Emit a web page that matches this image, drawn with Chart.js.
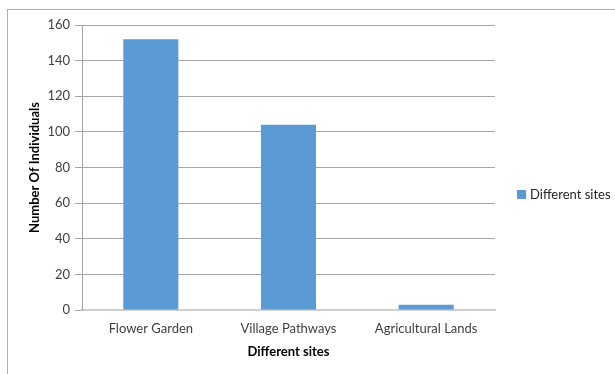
<!DOCTYPE html>
<html><head><meta charset="utf-8">
<script src="https://cdn.jsdelivr.net/npm/chart.js@4/dist/chart.umd.min.js"></script>
<style>
html,body{margin:0;padding:0;background:#fff;overflow:hidden}
#wrap{position:relative;width:615px;height:374px}
#frame{position:absolute;left:7px;top:9px;width:640px;height:400px;border:1px solid #b0b0b0;box-sizing:border-box}
canvas{position:absolute;left:0;top:0}
</style></head><body>
<div id="wrap"><div id="frame"></div><canvas id="c" width="615" height="374"></canvas></div>
<script>
const categories = ["Flower Garden", "Village Pathways", "Agricultural Lands"];
const seriesName = "Different sites";
const values = [152, 104, 3];
const yTicks = [0, 20, 40, 60, 80, 100, 120, 140, 160];
const xTitle = "Different sites";
const yTitle = "Number Of Individuals";

const FONT = "Lato, 'Open Sans', sans-serif";
const BAR = "#5b9bd5";

const extrasPlugin = {
  id: 'extras',
  afterDraw(chart) {
    const ctx = chart.ctx;
    const ds = chart.data.datasets[0];
    const area = chart.chartArea;
    ctx.save();
    // legend
    ctx.fillStyle = ds.backgroundColor;
    ctx.fillRect(517, 190, 9, 9);
    ctx.fillStyle = "#262626";
    ctx.font = "13px " + FONT;
    ctx.textBaseline = "middle";
    ctx.textAlign = "left";
    ctx.fillText(ds.label, 530, 195);
    // y axis title
    ctx.translate(35, (area.top + area.bottom) / 2);
    ctx.rotate(-Math.PI / 2);
    ctx.fillStyle = "#000";
    ctx.font = "bold 13px " + FONT;
    ctx.textAlign = "center";
    ctx.fillText(yTitle, 0, 0);
    ctx.restore();
  }
};

new Chart(document.getElementById('c'), {
  type: 'bar',
  data: {
    labels: categories,
    datasets: [{ label: seriesName, data: values, backgroundColor: BAR,
      barPercentage: 0.4, categoryPercentage: 1.0 }]
  },
  options: {
    responsive: false, animation: false,
    layout: { padding: { top: 25, right: 120, left: 0, bottom: 0 } },
    plugins: { legend: { display: false }, tooltip: { enabled: false } },
    scales: {
      x: {
        grid: { display: false, drawTicks: false },
        border: { display: true, color: "#d0d0d0", width: 2 },
        ticks: { color: "#404040", font: { family: FONT, size: 13 }, padding: 11, maxRotation: 0 },
        title: { display: true, text: xTitle, color: "#000", font: { family: FONT, size: 13, weight: 'bold' }, padding: { top: 4, bottom: 14 } },
        afterFit(scale) { scale.height = 64; }
      },
      y: {
        min: 0, max: 160,
        afterBuildTicks(scale) { scale.ticks = yTicks.map(v => ({ value: v })); },
        grid: { color: "#a6a6a6", tickLength: 7, drawTicks: true },
        border: { display: true, color: "#a6a6a6" },
        ticks: { color: "#404040", font: { family: FONT, size: 13 }, padding: 5 },
        title: { display: false },
        afterFit(scale) { scale.width = 82; }
      }
    }
  },
  plugins: [extrasPlugin]
});
</script>
</body></html>
